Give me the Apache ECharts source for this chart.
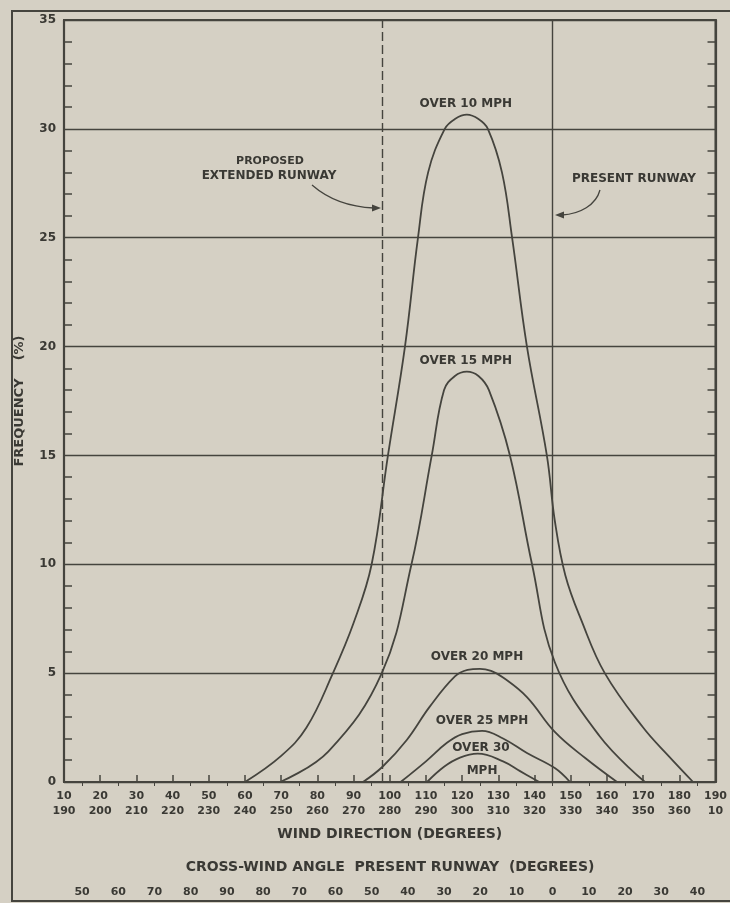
<!DOCTYPE html>
<html><head><meta charset="utf-8">
<script src="https://cdn.jsdelivr.net/npm/echarts@6/dist/echarts.min.js"></script>
<style>html,body{margin:0;padding:0;background:#d5d0c4}#c{width:730px;height:903px}</style>
</head><body><div id="c"></div>
<script>
// ---- tick labels ----
const windDirTop = [10,20,30,40,50,60,70,80,90,100,110,120,130,140,150,160,170,180,190];
const windDirBottom = [190,200,210,220,230,240,250,260,270,280,290,300,310,320,330,340,350,360,10];
const crossWindPos = [15,25,35,45,55,65,75,85,95,105,115,125,135,145,155,165,175,185];
const crossWindLabels = [50,60,70,80,90,80,70,60,50,40,30,20,10,0,10,20,30,40];
const freqTicks = [0,5,10,15,20,25,30,35];

// ---- runway directions ----
const proposedRunway = 98;
const presentRunway = 145;

// ---- series (wind direction, frequency %) ----
const over10Dir = [60,70,77,84.3,90,95,99.5,104.2,107.8,110.6,115.2,118,121.3,124.5,127.1,131,133.8,137.9,143.4,145.6,148.5,153,159.4,170,177,183.8];
const over10Val = [0,1.2,2.5,5,7.3,10,15,20,25,28,30,30.45,30.65,30.45,30,28,25,20,15,12,9.5,7.4,5,2.5,1.2,0];
const over15Dir = [69.7,83,97.8,106,111.6,115,118,121.3,124.5,127.4,133.2,139.3,145.6,158,170.5];
const over15Val = [0,1.4,5,10,15,18,18.65,18.85,18.65,18,15,10,5.5,2.1,0];
const over20Dir = [92.6,98,104.7,111,118,121.5,124.9,128,131.3,137.9,145.6,154,162.8];
const over20Val = [0,0.7,1.93,3.45,4.85,5.15,5.2,5.1,4.8,3.9,2.3,1.1,0];
const over25Dir = [103,110,115.8,120,125.5,131.3,137.9,145.6,149.8];
const over25Val = [0,0.95,1.8,2.2,2.35,2.0,1.33,0.64,0];
const over30Dir = [110.3,115,119.4,124.3,131.3,136,141.3];
const over30Val = [0,0.7,1.12,1.3,0.95,0.5,0];

const curveNames = ['OVER 10 MPH','OVER 15 MPH','OVER 20 MPH','OVER 25 MPH','OVER 30','MPH'];
const curveLabelAt = [[121,31.15],[121,19.35],[124.1,5.74],[125.5,2.8],[125.2,1.56],[125.5,0.5]];

const ink = '#45443e';
const txt = '#3a3934';
const font = 'DejaVu Sans';

function pairs(xs, ys){ return xs.map((x,i)=>[x, ys[i]]); }
function curve(name, xs, ys, extra){
  return Object.assign({
    name, type:'line', data: pairs(xs, ys), smooth: 0.4,
    showSymbol:false, symbol:'none', lineStyle:{color:ink, width:1.8}, silent:true, z:3
  }, extra || {});
}

const chart = echarts.init(document.getElementById('c'), null, {renderer:'canvas'});
chart.setOption({
  backgroundColor:'#d5d0c4',
  animation:false,
  grid:{left:64, right:13, top:20, bottom:121, show:true, borderColor:ink, borderWidth:2, backgroundColor:'transparent'},
  xAxis:[
    {type:'value', min:10, max:190, interval:10, position:'bottom',
     name:'WIND DIRECTION (DEGREES)', nameLocation:'middle', nameGap:45,
     nameTextStyle:{fontFamily:font, fontSize:14, color:txt, fontWeight:'bold'},
     axisLine:{show:true, lineStyle:{color:ink, width:2.2}},
     axisTick:{show:true, inside:true, length:7, lineStyle:{color:ink, width:1.5}},
     axisLabel:{show:true, margin:7, fontFamily:font, fontSize:11, fontWeight:'bold', color:txt, lineHeight:15,
       formatter:(v)=>{const i=windDirTop.indexOf(v); return i<0?'':windDirTop[i]+'\n'+windDirBottom[i];}},
     splitLine:{show:false}},
    {type:'value', min:10, max:190, interval:10, position:'bottom', offset:95,
     axisLine:{show:false},
     axisTick:{show:true, inside:false, length:4, customValues:crossWindPos, lineStyle:{color:ink, width:1}},
     axisLabel:{show:true, margin:10, customValues:crossWindPos, fontFamily:font, fontSize:11, fontWeight:'bold', color:txt,
       formatter:(v)=>{const i=crossWindPos.indexOf(v); return i<0?'':String(crossWindLabels[i]);}},
     splitLine:{show:false}}
  ],
  yAxis:[
    {type:'value', min:0, max:35, interval:5, position:'left',
     name:'FREQUENCY    (%)', nameLocation:'middle', nameGap:38, nameRotate:90,
     nameTextStyle:{fontFamily:font, fontSize:13, color:txt, fontWeight:'bold'},
     axisLine:{show:true, lineStyle:{color:ink, width:2.2}},
     axisTick:{show:false, inside:true},
     minorTick:{show:true, splitNumber:5, length:8, lineStyle:{color:ink, width:1.5}},
     axisLabel:{show:true, inside:false, margin:8, fontFamily:font, fontSize:12, fontWeight:'bold', color:txt},
     splitLine:{show:true, lineStyle:{color:ink, width:1.3}}},
    {type:'value', min:0, max:35, interval:5, position:'right',
     axisLine:{show:true, lineStyle:{color:ink, width:2.2}},
     axisTick:{show:false, inside:true},
     minorTick:{show:true, splitNumber:5, length:8, lineStyle:{color:ink, width:1.5}},
     axisLabel:{show:false}, splitLine:{show:false}}
  ],
  series:[
    curve('Over 10 mph', over10Dir, over10Val, {
      markLine:{silent:true, symbol:'none', label:{show:false},
        data:[
          {xAxis:proposedRunway, lineStyle:{type:[9,4], color:ink, width:1.4}},
          {xAxis:presentRunway, lineStyle:{type:'solid', color:ink, width:1.4}}
        ]}
    }),
    curve('Over 15 mph', over15Dir, over15Val),
    curve('Over 20 mph', over20Dir, over20Val),
    curve('Over 25 mph', over25Dir, over25Val),
    curve('Over 30 mph', over30Dir, over30Val),
    {type:'scatter', symbolSize:0, silent:true, z:5, itemStyle:{opacity:1},
     data: curveLabelAt.map((p,i)=>({value:p, name:curveNames[i]})),
     label:{show:true, opacity:1, position:'inside', formatter:(p)=>p.name, fontFamily:font, fontSize:12, fontWeight:'bold', color:txt}}
  ],
  graphic:[
    {type:'polyline', silent:true, shape:{points:[[730,11],[12,11],[12,901],[730,901]]}, style:{stroke:ink, lineWidth:2, fill:null}},
    {type:'text', silent:true, style:{x:270, y:161, text:'PROPOSED', textAlign:'center', textVerticalAlign:'middle', font:'bold 11px "DejaVu Sans"', fill:txt}},
    {type:'text', silent:true, style:{x:269, y:176, text:'EXTENDED RUNWAY', textAlign:'center', textVerticalAlign:'middle', font:'bold 12px "DejaVu Sans"', fill:txt}},
    {type:'text', silent:true, style:{x:634, y:179, text:'PRESENT RUNWAY', textAlign:'center', textVerticalAlign:'middle', font:'bold 12px "DejaVu Sans"', fill:txt}},
    {type:'text', silent:true, style:{x:390, y:867, text:'CROSS-WIND ANGLE  PRESENT RUNWAY  (DEGREES)', textAlign:'center', textVerticalAlign:'middle', font:'bold 14px "DejaVu Sans"', fill:txt}},
    {type:'bezierCurve', silent:true, shape:{x1:312, y1:185, cpx1:328, cpy1:199, cpx2:350, cpy2:207, x2:374, y2:208}, style:{stroke:ink, lineWidth:1.3, fill:null}},
    {type:'polygon', silent:true, shape:{points:[[381,208],[372,204.5],[372,211.5]]}, style:{fill:ink}},
    {type:'bezierCurve', silent:true, shape:{x1:600, y1:190, cpx1:596, cpy1:205, cpx2:580, cpy2:214, x2:562, y2:215}, style:{stroke:ink, lineWidth:1.3, fill:null}},
    {type:'polygon', silent:true, shape:{points:[[555,215],[564,211.5],[564,218.5]]}, style:{fill:ink}}
  ]
});
</script></body></html>
